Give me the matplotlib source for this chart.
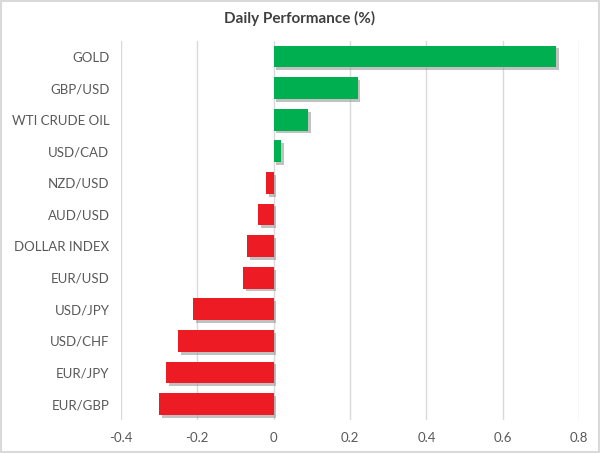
import matplotlib.pyplot as plt
import matplotlib.patheffects as pe

plt.rcParams['font.family'] = ['Lato', 'DejaVu Sans']

names = ['GOLD', 'GBP/USD', 'WTI CRUDE OIL', 'USD/CAD', 'NZD/USD', 'AUD/USD',
         'DOLLAR INDEX', 'EUR/USD', 'USD/JPY', 'USD/CHF', 'EUR/JPY', 'EUR/GBP']
changes = [0.74, 0.22, 0.09, 0.02, -0.02, -0.04, -0.07, -0.08, -0.21, -0.25, -0.28, -0.30]
xticks = [-0.4, -0.2, 0, 0.2, 0.4, 0.6, 0.8]
xtick_labels = ['-0.4', '-0.2', '0', '0.2', '0.4', '0.6', '0.8']

green = '#00B050'
red = '#ED1C24'

fig = plt.figure(figsize=(6, 4.53), dpi=100)
ax = fig.add_axes([0.201, 0.073, 0.7645, 0.837])

ypos = list(range(len(names)))[::-1]
colors = [green if v >= 0 else red for v in changes]
bars = ax.barh(ypos, changes, height=0.69, color=colors, zorder=3)
for b in bars:
    b.set_path_effects([pe.SimplePatchShadow(offset=(2, -2), shadow_rgbFace='#999999', alpha=0.6),
                        pe.Normal()])

ax.set_xlim(-0.4, 0.8)
ax.set_ylim(-0.5, len(names) - 0.5)
ax.set_xticks(xticks)
ax.set_xticklabels(xtick_labels)
ax.set_yticks(ypos)
ax.set_yticklabels(names)
ax.tick_params(axis='both', length=0, colors='#595959', labelsize=9.5)
ax.tick_params(axis='y', pad=8)
ax.tick_params(axis='x', pad=9)
ax.grid(axis='x', color='#D9D9D9', linewidth=1, zorder=0)
for s in ax.spines.values():
    s.set_visible(False)

fig.text(0.5, 0.96, 'Daily Performance (%)', ha='center', va='center',
         fontsize=11, fontweight='bold', color='#404040')

# light frame around the whole picture
fig.patches.append(plt.Rectangle((0.002, 0.002), 0.996, 0.996, transform=fig.transFigure,
                                 fill=False, edgecolor='#D9D9D9', linewidth=1.5))

fig.savefig('out.png', dpi=100)
